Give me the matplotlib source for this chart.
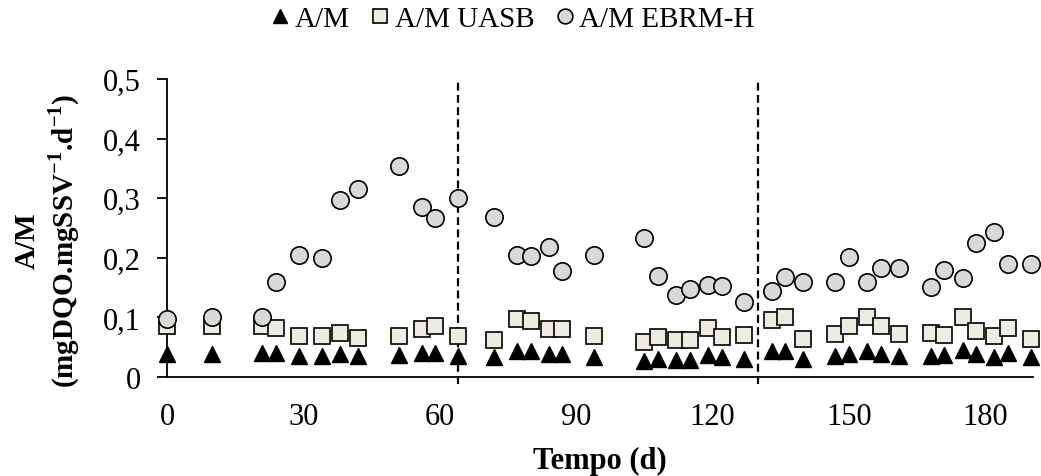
import matplotlib
matplotlib.use('Agg')
import matplotlib.pyplot as plt
from matplotlib.ticker import FuncFormatter, MultipleLocator

# tempo (d) of each sample
tempo = [0, 10, 21, 24, 29, 34, 38, 42, 51, 56, 59, 64,
         72, 77, 80, 84, 87, 94, 105, 108, 112, 115, 119, 122, 127,
         133, 136, 140, 147, 150, 154, 157, 161, 168, 171, 175, 178, 182, 185, 190]

am = [0.039, 0.039, 0.040, 0.041, 0.036, 0.036, 0.039, 0.036, 0.037, 0.040, 0.040, 0.036,
      0.033, 0.044, 0.044, 0.039, 0.039, 0.033, 0.027, 0.031, 0.028, 0.029, 0.037, 0.033, 0.031,
      0.043, 0.043, 0.031, 0.035, 0.039, 0.044, 0.039, 0.035, 0.035, 0.037, 0.046, 0.039, 0.033, 0.040, 0.033]

am_uasb = [0.086, 0.086, 0.086, 0.083, 0.068, 0.069, 0.074, 0.066, 0.069, 0.080, 0.085, 0.068,
           0.062, 0.097, 0.094, 0.081, 0.081, 0.068, 0.059, 0.067, 0.062, 0.062, 0.082, 0.067, 0.071,
           0.095, 0.100, 0.063, 0.072, 0.086, 0.100, 0.085, 0.072, 0.074, 0.071, 0.100, 0.077, 0.068, 0.082, 0.064]

am_ebrm = [0.098, 0.101, 0.100, 0.160, 0.205, 0.200, 0.297, 0.316, 0.354, 0.285, 0.266, 0.300,
           0.268, 0.204, 0.203, 0.218, 0.178, 0.204, 0.234, 0.170, 0.138, 0.148, 0.155, 0.153, 0.126,
           0.145, 0.168, 0.159, 0.160, 0.201, 0.160, 0.183, 0.183, 0.151, 0.179, 0.166, 0.225, 0.244, 0.189, 0.190]

# phase limits (d)
fases = [64, 130]

plt.rcParams['font.family'] = ['Liberation Serif', 'DejaVu Serif']
plt.rcParams['mathtext.fontset'] = 'custom'
plt.rcParams['mathtext.rm'] = 'Liberation Serif'
plt.rcParams['mathtext.bf'] = 'Liberation Serif:bold'

fig = plt.figure(figsize=(10.41, 4.77), dpi=100)
ax = fig.add_axes([0.1604, 0.2075, 0.8319, 0.6248])

for f in fases:
    ax.plot([f, f], [-0.012, 0.5], color='black', lw=1.6, ls=(0, (3.6, 1.9)),
            clip_on=False, zorder=1)

ax.plot(tempo, am, ls='none', marker='^', ms=12, mfc='black', mec='black',
        label='A/M', clip_on=False, zorder=3)
ax.plot(tempo, am_uasb, ls='none', marker='s', ms=11.5, mfc='#eeece1', mec='black',
        mew=1.2, label='A/M UASB', clip_on=False, zorder=4)
ax.plot(tempo, am_ebrm, ls='none', marker='o', ms=12.5, mfc='#d9d9d9', mec='black',
        mew=1.2, label='A/M EBRM-H', clip_on=False, zorder=5)

ax.set_xlim(0, 190.5)
ax.set_ylim(0, 0.5)
ax.xaxis.set_major_locator(MultipleLocator(30))
ax.yaxis.set_major_locator(MultipleLocator(0.1))
ax.yaxis.set_major_formatter(FuncFormatter(lambda v, p: '0' if abs(v) < 1e-9 else ('%.1f' % v).replace('.', ',')))

for s in ['top', 'right']:
    ax.spines[s].set_visible(False)
for s in ['left', 'bottom']:
    ax.spines[s].set_linewidth(1.3)

ax.tick_params(axis='x', length=0, pad=18, labelsize=22)
ax.tick_params(axis='y', length=7, width=1.3, direction='out', pad=12, labelsize=22)

ax.set_xlabel('Tempo (d)', fontsize=22, fontweight='bold', labelpad=11)
ax.set_ylabel('A/M\n(mgDQO.mgSSV$^{\\mathbf{-1}}$.d$^{\\mathbf{-1}}$)', fontsize=21,
              fontweight='bold', linespacing=1.2)
ax.yaxis.set_label_coords(-0.098, 0.46)

fig.legend(loc='center', bbox_to_anchor=(510 / 1041, 1 - 20 / 477), ncol=3,
           frameon=False, fontsize=21, markerscale=0.85, handletextpad=0.0,
           columnspacing=0.55, handlelength=1.0)

fig.savefig('out.png', dpi=100)
